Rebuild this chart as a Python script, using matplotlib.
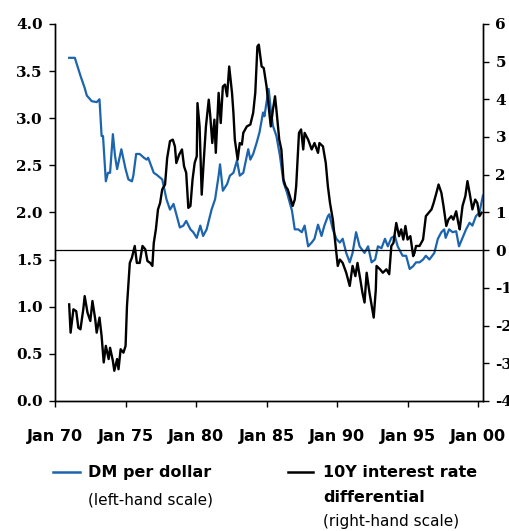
import matplotlib.pyplot as plt
from matplotlib.lines import Line2D

# DM per dollar (left-hand scale)
dm_years = [1971.0, 1971.4, 1971.8, 1972.1, 1972.25, 1972.6, 1972.95, 1973.15, 1973.3, 1973.4,
            1973.6, 1973.75, 1973.9, 1974.1, 1974.25, 1974.4, 1974.7, 1975.0, 1975.2, 1975.45,
            1975.55, 1975.75, 1976.0, 1976.3, 1976.5, 1976.6, 1977.0, 1977.2, 1977.6, 1977.9,
            1978.15, 1978.4, 1978.6, 1978.85, 1979.1, 1979.3, 1979.6, 1979.8, 1980.05, 1980.3,
            1980.5, 1980.75, 1981.1, 1981.35, 1981.6, 1981.7, 1981.9, 1982.2, 1982.4, 1982.65,
            1982.9, 1983.1, 1983.35, 1983.7, 1983.85, 1984.05, 1984.3, 1984.5, 1984.75, 1984.85,
            1985.0, 1985.15, 1985.3, 1985.45, 1985.7, 1985.95, 1986.2, 1986.45, 1986.65, 1986.8,
            1987.0, 1987.25, 1987.5, 1987.7, 1987.95, 1988.2, 1988.4, 1988.65, 1988.9, 1989.1,
            1989.35, 1989.45, 1989.7, 1989.95, 1990.2, 1990.4, 1990.65, 1990.9, 1991.1, 1991.35,
            1991.6, 1991.95, 1992.2, 1992.45, 1992.7, 1992.9, 1993.15, 1993.4, 1993.6, 1993.85,
            1994.1, 1994.3, 1994.65, 1994.9, 1995.15, 1995.4, 1995.6, 1995.85, 1996.1, 1996.3,
            1996.55, 1996.9, 1997.15, 1997.4, 1997.6, 1997.7, 1997.95, 1998.2, 1998.45, 1998.65,
            1998.9, 1999.15, 1999.4, 1999.6, 1999.85, 2000.1, 2000.35]
dm_values = [3.64, 3.64, 3.45, 3.32, 3.24, 3.18, 3.17, 3.20, 2.81, 2.81,
             2.33, 2.42, 2.42, 2.83, 2.60, 2.46, 2.67, 2.46, 2.35, 2.33,
             2.39, 2.62, 2.62, 2.58, 2.56, 2.58, 2.42, 2.40, 2.35, 2.14,
             2.03, 2.09, 1.98, 1.84, 1.86, 1.91, 1.82, 1.79, 1.73, 1.86,
             1.75, 1.82, 2.03, 2.14, 2.39, 2.51, 2.23, 2.30, 2.39, 2.42,
             2.55, 2.39, 2.42, 2.67, 2.56, 2.62, 2.74, 2.85, 3.06, 3.02,
             3.17, 3.31, 3.09, 2.92, 2.81, 2.60, 2.32, 2.21, 2.10, 2.02,
             1.82, 1.82, 1.79, 1.86, 1.64, 1.68, 1.72, 1.87, 1.75, 1.86,
             1.96, 1.98, 1.82, 1.72, 1.68, 1.72, 1.57, 1.47, 1.57, 1.79,
             1.64, 1.57, 1.64, 1.47, 1.50, 1.64, 1.62, 1.72, 1.64, 1.73,
             1.75, 1.64, 1.54, 1.54, 1.40, 1.43, 1.47, 1.47, 1.50, 1.54,
             1.50, 1.57, 1.72, 1.79, 1.82, 1.73, 1.82, 1.79, 1.80, 1.64,
             1.73, 1.82, 1.89, 1.86, 1.96, 2.00, 2.18]

# 10Y interest rate differential (right-hand scale)
diff_years = [1971.0, 1971.1, 1971.3, 1971.5, 1971.65, 1971.8, 1972.0, 1972.1, 1972.3, 1972.5,
              1972.65, 1972.85, 1972.95, 1973.15, 1973.3, 1973.45, 1973.6, 1973.8, 1973.9, 1974.1,
              1974.2, 1974.4, 1974.5, 1974.65, 1974.85, 1975.0, 1975.1, 1975.3, 1975.45, 1975.65,
              1975.8, 1976.0, 1976.2, 1976.4, 1976.55, 1976.75, 1976.9, 1977.0, 1977.15, 1977.3,
              1977.45, 1977.6, 1977.8, 1977.95, 1978.15, 1978.35, 1978.5, 1978.6, 1978.8, 1979.0,
              1979.15, 1979.3, 1979.45, 1979.6, 1979.75, 1979.9, 1980.05, 1980.1, 1980.25, 1980.4,
              1980.55, 1980.7, 1980.9, 1981.0, 1981.15, 1981.3, 1981.4, 1981.6, 1981.75, 1981.9,
              1982.05, 1982.2, 1982.35, 1982.55, 1982.65, 1982.75, 1982.95, 1983.1, 1983.25, 1983.35,
              1983.6, 1983.85, 1984.05, 1984.2, 1984.35, 1984.45, 1984.65, 1984.8, 1985.0, 1985.1,
              1985.3, 1985.45, 1985.6, 1985.7, 1985.9, 1986.05, 1986.2, 1986.35, 1986.5, 1986.65,
              1986.85, 1987.0, 1987.1, 1987.3, 1987.45, 1987.6, 1987.7, 1987.95, 1988.2, 1988.4,
              1988.65, 1988.75, 1989.0, 1989.2, 1989.35, 1989.5, 1989.7, 1989.9, 1990.05, 1990.2,
              1990.4, 1990.65, 1990.9, 1991.1, 1991.3, 1991.45, 1991.65, 1991.8, 1991.95, 1992.1,
              1992.3, 1992.5, 1992.6, 1992.75, 1992.8, 1993.05, 1993.25, 1993.5, 1993.7, 1993.85,
              1994.0, 1994.2, 1994.4, 1994.55, 1994.7, 1994.85, 1995.0, 1995.2, 1995.4, 1995.5,
              1995.6, 1995.85, 1996.1, 1996.3, 1996.5, 1996.7, 1996.85, 1997.05, 1997.2, 1997.4,
              1997.55, 1997.75, 1997.9, 1998.1, 1998.25, 1998.45, 1998.6, 1998.7, 1998.9, 1999.1,
              1999.25, 1999.4, 1999.6, 1999.8, 1999.95, 2000.1, 2000.25]
diff_values = [-1.44, -2.19, -1.57, -1.62, -2.06, -2.10, -1.57, -1.22, -1.66, -1.88,
               -1.35, -1.84, -2.19, -1.79, -2.28, -2.98, -2.54, -2.89, -2.59, -2.94,
               -3.20, -2.89, -3.16, -2.63, -2.72, -2.54, -1.48, -0.34, -0.20, 0.11,
               -0.34, -0.34, 0.11, 0.02, -0.29, -0.34, -0.42, 0.19, 0.55, 1.08,
               1.25, 1.61, 1.74, 2.44, 2.89, 2.93, 2.75, 2.31, 2.53, 2.67,
               2.22, 2.05, 1.12, 1.17, 1.87, 2.31, 2.49, 3.90, 3.28, 1.47,
               2.40, 3.28, 3.99, 3.59, 2.84, 3.46, 2.58, 4.17, 3.37, 4.34,
               4.39, 4.08, 4.87, 4.17, 3.64, 2.93, 2.40, 2.84, 2.80, 3.11,
               3.28, 3.33, 3.64, 4.17, 5.40, 5.45, 4.87, 4.83, 4.34, 3.99,
               3.28, 3.72, 4.08, 3.72, 2.93, 2.67, 1.87, 1.69, 1.61, 1.43,
               1.17, 1.34, 1.69, 3.11, 3.20, 2.67, 3.11, 2.93, 2.67, 2.84,
               2.58, 2.84, 2.75, 2.31, 1.69, 1.25, 0.81, 0.11, -0.42, -0.25,
               -0.34, -0.60, -0.95, -0.42, -0.69, -0.34, -0.78, -1.13, -1.39, -0.60,
               -1.13, -1.57, -1.79, -1.04, -0.42, -0.51, -0.60, -0.51, -0.64, 0.11,
               0.19, 0.72, 0.37, 0.55, 0.28, 0.64, 0.28, 0.37, -0.16, -0.07,
               0.11, 0.11, 0.28, 0.90, 0.99, 1.08, 1.25, 1.52, 1.74, 1.52,
               1.17, 0.64, 0.81, 0.90, 0.81, 1.03, 0.72, 0.55, 1.17, 1.43,
               1.83, 1.52, 1.08, 1.34, 1.25, 0.90, 0.99]

tick_years = [1970, 1975, 1980, 1985, 1990, 1995, 2000]
tick_labels = ["Jan 70", "Jan 75", "Jan 80", "Jan 85", "Jan 90", "Jan 95", "Jan 00"]

blue = '#1c64ad'

fig = plt.figure(figsize=(5.10, 5.31), dpi=100)
ax = fig.add_axes([0.108, 0.245, 0.839, 0.710])
ax2 = ax.twinx()

ax.plot(dm_years, dm_values, color=blue, lw=1.6, zorder=3)
ax2.plot(diff_years, diff_values, color='black', lw=1.7, zorder=3)
ax2.axhline(0, color='black', lw=0.9, zorder=2)

ax.set_xlim(1970, 2000.35)
ax.set_ylim(0, 4)
ax2.set_ylim(-4, 6)

ax.set_yticks([0, 0.5, 1.0, 1.5, 2.0, 2.5, 3.0, 3.5, 4.0])
ax.set_yticklabels(["%.1f" % v for v in ax.get_yticks()],
                   fontfamily='DejaVu Serif', fontweight='bold', fontsize=11)
ax2.set_yticks(range(-4, 7))
ax2.set_yticklabels([str(v) for v in range(-4, 7)],
                    fontfamily='DejaVu Serif', fontweight='bold', fontsize=11)
ax.set_xticks(tick_years)
ax.set_xticklabels(tick_labels, fontfamily='DejaVu Sans', fontweight='bold', fontsize=11.5)

for a in (ax, ax2):
    a.spines['top'].set_visible(False)
    for s in a.spines.values():
        s.set_linewidth(1.0)
ax.tick_params(axis='y', direction='out', length=4, width=1, pad=5)
ax.tick_params(axis='x', direction='out', length=4, width=1, pad=16)
ax2.tick_params(axis='y', direction='out', length=4, width=1, pad=5)

# legend below the chart
fig.add_artist(Line2D([0.104, 0.157], [0.111, 0.111], color=blue, lw=1.8))
fig.text(0.173, 0.111, "DM per dollar", fontsize=11.5, fontweight='bold', va='center')
fig.text(0.173, 0.058, "(left-hand scale)", fontsize=11, va='center')
fig.add_artist(Line2D([0.565, 0.614], [0.111, 0.111], color='black', lw=1.8))
fig.text(0.633, 0.111, "10Y interest rate", fontsize=11.5, fontweight='bold', va='center')
fig.text(0.633, 0.064, "differential", fontsize=11.5, fontweight='bold', va='center')
fig.text(0.633, 0.017, "(right-hand scale)", fontsize=11, va='center')

fig.savefig("out.png", dpi=100)
